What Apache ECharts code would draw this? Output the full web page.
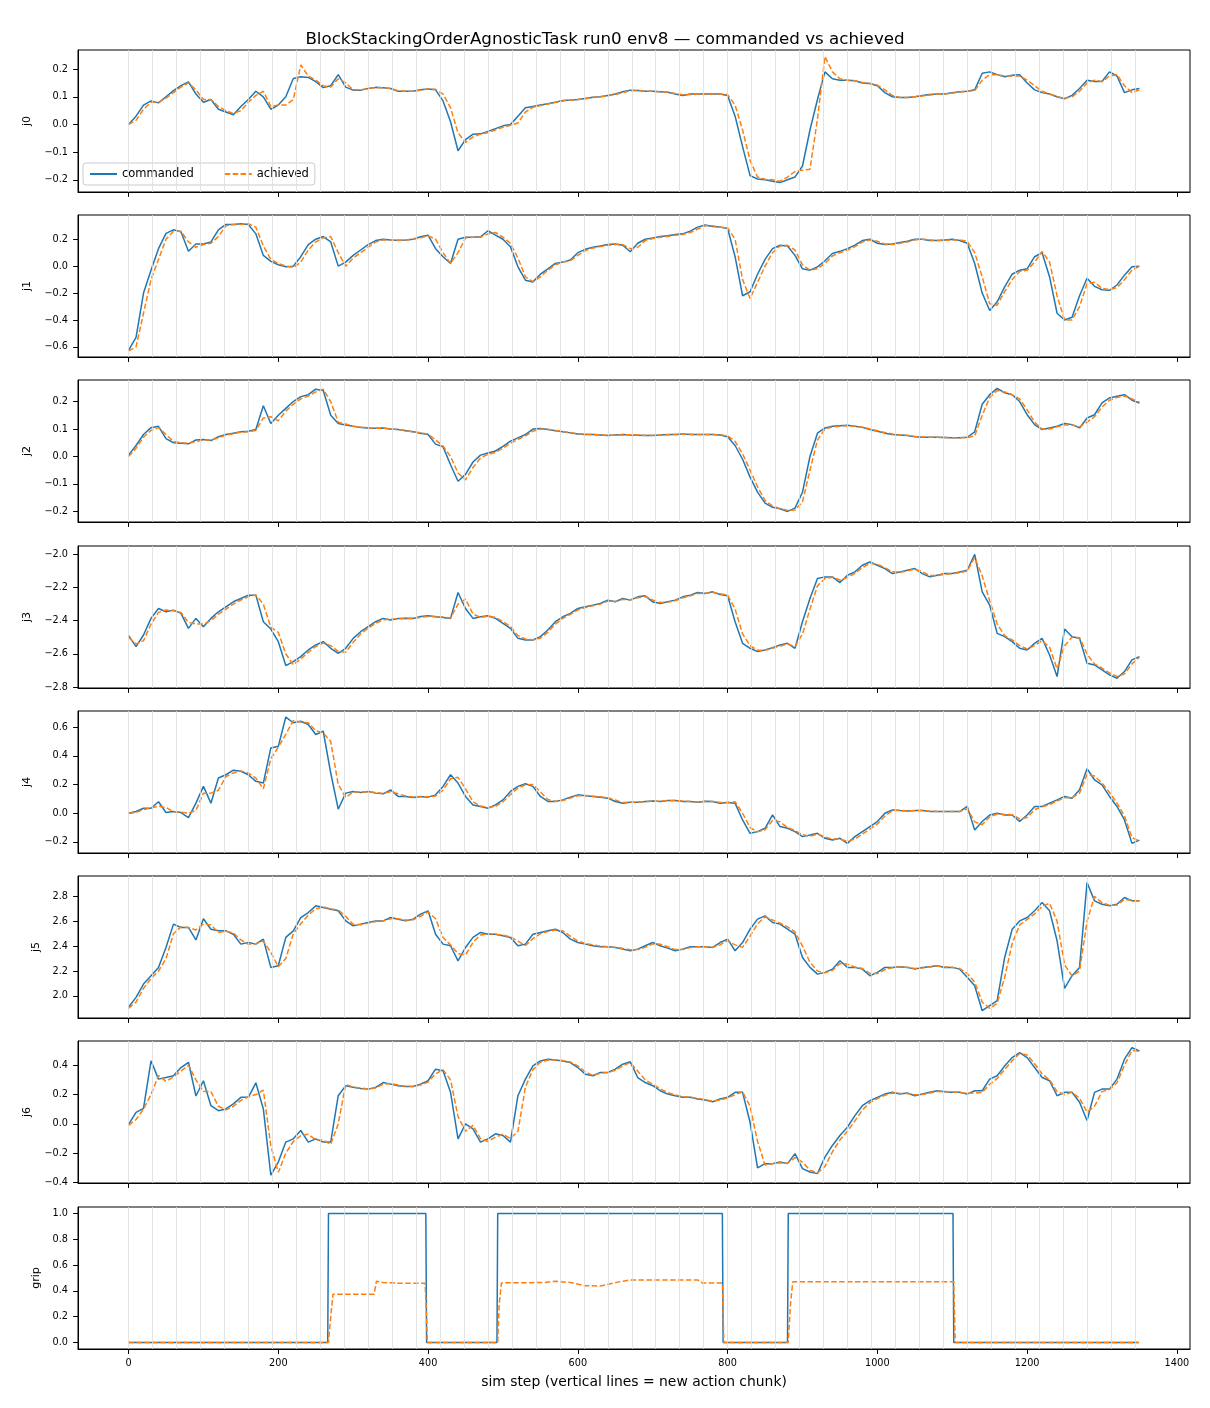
<!DOCTYPE html>
<html>
<head>
<meta charset="utf-8">
<title>commanded vs achieved</title>
<script src="https://cdn.jsdelivr.net/npm/echarts@6.0.0/dist/echarts.min.js"></script>
<style>
html, body { margin: 0; padding: 0; background: #fff; }
#chart { width: 1210px; height: 1408px; }
</style>
</head>
<body>
<div id="chart"></div>
<script>
let steps = [
      0, 10, 20, 30, 40, 50, 60, 70, 80, 90,
      100, 110, 120, 130, 140, 150, 160, 170, 180, 190,
      200, 210, 220, 230, 240, 250, 260, 270, 280, 290,
      300, 310, 320, 330, 340, 350, 360, 370, 380, 390,
      400, 410, 420, 430, 440, 450, 460, 470, 480, 490,
      500, 510, 520, 530, 540, 550, 560, 570, 580, 590,
      600, 610, 620, 630, 640, 650, 660, 670, 680, 690,
      700, 710, 720, 730, 740, 750, 760, 770, 780, 790,
      800, 810, 820, 830, 840, 850, 860, 870, 880, 890,
      900, 910, 920, 930, 940, 950, 960, 970, 980, 990,
      1000, 1010, 1020, 1030, 1040, 1050, 1060, 1070, 1080, 1090,
      1100, 1110, 1120, 1130, 1140, 1150, 1160, 1170, 1180, 1190,
      1200, 1210, 1220, 1230, 1240, 1250, 1260, 1270, 1280, 1290,
      1300, 1310, 1320, 1330, 1340, 1350
];

let j0Cmd = [
      0.00, 0.03, 0.07, 0.085, 0.078, 0.10, 0.122, 0.14, 0.154, 0.11,
      0.08, 0.09, 0.055, 0.045, 0.035, 0.065, 0.09, 0.12, 0.10, 0.055,
      0.07, 0.10, 0.166, 0.172, 0.17, 0.155, 0.133, 0.14, 0.18, 0.135,
      0.124, 0.124, 0.13, 0.134, 0.133, 0.13, 0.12, 0.12, 0.12, 0.125,
      0.128, 0.125, 0.085, 0.01, -0.095, -0.055, -0.035, -0.034, -0.025, -0.015,
      -0.005, 0.0, 0.03, 0.06, 0.065, 0.07, 0.075, 0.08, 0.087, 0.088,
      0.09, 0.094, 0.098, 0.10, 0.105, 0.11, 0.118, 0.124, 0.123, 0.12,
      0.12, 0.118, 0.116, 0.11, 0.105, 0.11, 0.11, 0.11, 0.11, 0.11,
      0.105, 0.03, -0.08, -0.185, -0.197, -0.20, -0.205, -0.21, -0.20, -0.19,
      -0.15, -0.02, 0.09, 0.19, 0.165, 0.16, 0.16, 0.158, 0.15, 0.148,
      0.14, 0.115, 0.10, 0.097, 0.097, 0.10, 0.105, 0.108, 0.11, 0.11,
      0.115, 0.118, 0.12, 0.125, 0.185, 0.19, 0.18, 0.172, 0.178, 0.18,
      0.15, 0.125, 0.115, 0.11, 0.10, 0.093, 0.105, 0.13, 0.16, 0.155,
      0.155, 0.19, 0.175, 0.115, 0.125, 0.13
];
let j0Ach = [
      0.0, 0.015, 0.055, 0.08, 0.08, 0.095, 0.115, 0.135, 0.15, 0.125,
      0.09, 0.09, 0.065, 0.05, 0.04, 0.05, 0.08, 0.105, 0.12, 0.065,
      0.07, 0.07, 0.09, 0.215, 0.175, 0.16, 0.14, 0.135, 0.165, 0.15,
      0.125, 0.125, 0.13, 0.133, 0.133, 0.13, 0.122, 0.12, 0.12, 0.124,
      0.128, 0.127, 0.11, 0.06, -0.03, -0.065, -0.045, -0.035, -0.03, -0.02,
      -0.01, -0.003, 0.005, 0.045, 0.062, 0.068, 0.074, 0.08, 0.085, 0.088,
      0.09, 0.093, 0.097, 0.10, 0.104, 0.108, 0.115, 0.122, 0.123, 0.12,
      0.12, 0.118, 0.116, 0.112, 0.107, 0.108, 0.11, 0.11, 0.11, 0.11,
      0.108, 0.07, -0.02, -0.13, -0.19, -0.198, -0.20, -0.205, -0.19, -0.17,
      -0.165, -0.162, 0.02, 0.245, 0.19, 0.165, 0.16, 0.158, 0.152, 0.148,
      0.142, 0.125, 0.105, 0.098, 0.097, 0.10, 0.103, 0.106, 0.11, 0.11,
      0.113, 0.117, 0.12, 0.122, 0.16, 0.18, 0.18, 0.175, 0.175, 0.175,
      0.16, 0.14, 0.12, 0.11, 0.10, 0.095, 0.10, 0.12, 0.15, 0.16,
      0.155, 0.175, 0.18, 0.14, 0.115, 0.125
];

let j1Cmd = [
      -0.625, -0.53, -0.2, -0.03, 0.13, 0.243, 0.27, 0.255, 0.11, 0.165,
      0.165, 0.18, 0.27, 0.31, 0.31, 0.315, 0.31, 0.24, 0.08, 0.035,
      0.01, -0.005, 0.0, 0.07, 0.16, 0.2, 0.22, 0.18, 0.0, 0.03,
      0.08, 0.12, 0.16, 0.19, 0.2, 0.195, 0.193, 0.195, 0.2, 0.218,
      0.23, 0.13, 0.07, 0.02, 0.2, 0.215, 0.215, 0.218, 0.263, 0.23,
      0.2, 0.144, -0.005, -0.104, -0.117, -0.06, -0.02, 0.02, 0.03, 0.045,
      0.1, 0.125, 0.14, 0.15, 0.16, 0.165, 0.155, 0.107, 0.17, 0.2,
      0.21, 0.22, 0.225, 0.235, 0.24, 0.26, 0.29, 0.305, 0.295, 0.29,
      0.28, 0.07, -0.22, -0.19, -0.06, 0.05, 0.13, 0.155, 0.15, 0.08,
      -0.02, -0.03, -0.005, 0.04, 0.094, 0.11, 0.13, 0.156, 0.19, 0.2,
      0.17, 0.16, 0.165, 0.175, 0.185, 0.2, 0.2, 0.19, 0.19, 0.195,
      0.2, 0.19, 0.17, 0.02, -0.2, -0.33, -0.265, -0.154, -0.06, -0.03,
      -0.02, 0.07, 0.1, -0.08, -0.35, -0.4, -0.38, -0.22, -0.09, -0.15,
      -0.175, -0.18, -0.14, -0.067, -0.005, 0.0
];
let j1Ach = [
      -0.63, -0.6, -0.35, -0.1, 0.05, 0.2, 0.26, 0.26, 0.18, 0.14,
      0.16, 0.17, 0.22, 0.3, 0.31, 0.31, 0.315, 0.29, 0.15, 0.05,
      0.02, 0.0, -0.01, 0.03, 0.12, 0.18, 0.21, 0.22, 0.1, 0.0,
      0.06, 0.1, 0.14, 0.18, 0.195, 0.195, 0.19, 0.195, 0.2, 0.21,
      0.225, 0.2, 0.1, 0.02, 0.1, 0.21, 0.215, 0.215, 0.24, 0.25,
      0.215, 0.17, 0.06, -0.08, -0.115, -0.08, -0.03, 0.01, 0.03, 0.04,
      0.08, 0.115, 0.135, 0.145, 0.155, 0.16, 0.16, 0.13, 0.14, 0.19,
      0.205, 0.215, 0.22, 0.23, 0.235, 0.25, 0.275, 0.3, 0.3, 0.29,
      0.285, 0.2, -0.1, -0.24, -0.12, 0.0, 0.1, 0.15, 0.155, 0.12,
      0.01, -0.03, -0.02, 0.02, 0.075, 0.1, 0.12, 0.145, 0.18, 0.195,
      0.185, 0.165, 0.16, 0.17, 0.18, 0.195, 0.2, 0.195, 0.19, 0.19,
      0.195, 0.195, 0.185, 0.1, -0.08, -0.28, -0.29, -0.19, -0.1, -0.04,
      -0.03, 0.03, 0.11, 0.03, -0.22, -0.4, -0.4, -0.3, -0.13, -0.12,
      -0.165, -0.175, -0.16, -0.1, -0.03, 0.0
];

let j2Cmd = [
      0.005, 0.04, 0.08, 0.105, 0.11, 0.065, 0.05, 0.048, 0.046, 0.06,
      0.062, 0.058, 0.072, 0.08, 0.085, 0.09, 0.092, 0.098, 0.185, 0.12,
      0.15, 0.175, 0.2, 0.218, 0.225, 0.245, 0.24, 0.15, 0.12, 0.115,
      0.11, 0.106, 0.104, 0.103, 0.104, 0.1, 0.098, 0.094, 0.09, 0.085,
      0.08, 0.045, 0.035, -0.03, -0.09, -0.065, -0.02, 0.005, 0.013, 0.02,
      0.037, 0.056, 0.068, 0.08, 0.1, 0.102, 0.098, 0.094, 0.09, 0.086,
      0.082, 0.08, 0.08, 0.078, 0.076, 0.078, 0.08, 0.078, 0.077, 0.076,
      0.076, 0.078, 0.08, 0.08, 0.082, 0.08, 0.08, 0.08, 0.08, 0.078,
      0.072, 0.04, -0.01, -0.075, -0.13, -0.17, -0.185, -0.19, -0.2, -0.188,
      -0.13, 0.0, 0.085, 0.104, 0.11, 0.112, 0.114, 0.11, 0.106, 0.098,
      0.092, 0.085, 0.08, 0.078, 0.076, 0.072, 0.07, 0.07, 0.07, 0.069,
      0.068, 0.068, 0.07, 0.09, 0.19, 0.225, 0.248, 0.232, 0.225, 0.2,
      0.152, 0.116, 0.098, 0.104, 0.11, 0.12, 0.116, 0.104, 0.14, 0.152,
      0.195, 0.213, 0.219, 0.225, 0.205, 0.195
];
let j2Ach = [
      0.0, 0.03, 0.07, 0.095, 0.105, 0.08, 0.055, 0.05, 0.048, 0.055,
      0.06, 0.06, 0.068, 0.078, 0.083, 0.088, 0.09, 0.095, 0.14, 0.145,
      0.13, 0.165, 0.19, 0.21, 0.22, 0.235, 0.245, 0.2, 0.125, 0.118,
      0.11, 0.107, 0.105, 0.103, 0.103, 0.1, 0.098, 0.095, 0.09, 0.086,
      0.082, 0.06, 0.038, 0.0, -0.06, -0.085, -0.04, -0.005, 0.008, 0.015,
      0.03, 0.048, 0.062, 0.075, 0.092, 0.1, 0.099, 0.095, 0.091, 0.087,
      0.083, 0.081, 0.08, 0.079, 0.077, 0.077, 0.079, 0.079, 0.078, 0.077,
      0.077, 0.078, 0.079, 0.08, 0.081, 0.081, 0.08, 0.08, 0.08, 0.079,
      0.075, 0.055, 0.01, -0.05, -0.11, -0.16, -0.18, -0.19, -0.196, -0.195,
      -0.165, -0.05, 0.06, 0.1, 0.108, 0.11, 0.112, 0.11, 0.107, 0.1,
      0.094, 0.087, 0.082, 0.079, 0.077, 0.073, 0.071, 0.07, 0.07, 0.069,
      0.068, 0.068, 0.069, 0.075, 0.15, 0.215, 0.24, 0.235, 0.225, 0.21,
      0.17, 0.125, 0.1, 0.1, 0.108, 0.115, 0.115, 0.108, 0.125, 0.145,
      0.18, 0.205, 0.215, 0.22, 0.21, 0.198
];

let j3Cmd = [
      -2.49, -2.556, -2.486, -2.386, -2.326, -2.346, -2.336, -2.356, -2.446, -2.386,
      -2.436, -2.386, -2.346, -2.316, -2.286, -2.266, -2.246, -2.246, -2.406, -2.45,
      -2.526, -2.67, -2.646, -2.616, -2.576, -2.546, -2.526, -2.566, -2.596, -2.566,
      -2.506, -2.466, -2.436, -2.406, -2.386, -2.396, -2.386, -2.385, -2.386, -2.375,
      -2.37, -2.376, -2.38, -2.386, -2.23, -2.326, -2.386, -2.376, -2.37, -2.386,
      -2.416, -2.446, -2.506, -2.516, -2.516, -2.496, -2.456, -2.406, -2.376, -2.356,
      -2.326, -2.316, -2.306, -2.296, -2.276, -2.286, -2.266, -2.276, -2.256, -2.25,
      -2.286, -2.296, -2.286, -2.276, -2.256, -2.246, -2.23, -2.236, -2.226, -2.242,
      -2.25, -2.406, -2.536, -2.566, -2.586, -2.576, -2.562, -2.546, -2.536, -2.566,
      -2.406, -2.266, -2.146, -2.136, -2.136, -2.17, -2.126, -2.106, -2.066, -2.046,
      -2.066, -2.086, -2.116, -2.106, -2.096, -2.086, -2.116, -2.136, -2.126, -2.116,
      -2.116, -2.106, -2.096, -2.0, -2.226, -2.306, -2.476, -2.496, -2.526, -2.566,
      -2.576, -2.536, -2.506, -2.606, -2.736, -2.45, -2.496, -2.506, -2.656, -2.666,
      -2.696, -2.726, -2.746, -2.706, -2.636, -2.616
];
let j3Ach = [
      -2.5, -2.54, -2.52, -2.42, -2.35, -2.335, -2.34, -2.35, -2.41, -2.42,
      -2.42, -2.4, -2.36, -2.33, -2.3, -2.275, -2.255, -2.245, -2.3, -2.44,
      -2.47, -2.6, -2.665, -2.63, -2.59, -2.555, -2.535, -2.55, -2.585, -2.59,
      -2.53, -2.48, -2.445, -2.415, -2.395, -2.39, -2.388, -2.386, -2.385, -2.38,
      -2.374, -2.375, -2.378, -2.384, -2.3, -2.27, -2.36, -2.38, -2.373, -2.38,
      -2.405, -2.435, -2.49, -2.51, -2.515, -2.505, -2.47, -2.42, -2.385, -2.362,
      -2.335, -2.32, -2.31, -2.3, -2.282, -2.284, -2.272, -2.274, -2.262, -2.254,
      -2.275, -2.29, -2.288, -2.28, -2.262, -2.25, -2.236, -2.235, -2.23, -2.238,
      -2.246, -2.33, -2.48, -2.55, -2.578, -2.578, -2.566, -2.552, -2.54, -2.555,
      -2.48, -2.33, -2.19, -2.145, -2.138, -2.155, -2.14, -2.115, -2.08, -2.055,
      -2.06, -2.08, -2.105, -2.108, -2.1, -2.09, -2.105, -2.128, -2.128, -2.12,
      -2.117, -2.11, -2.1, -2.02, -2.13, -2.28, -2.42, -2.49, -2.515, -2.55,
      -2.57, -2.55, -2.52, -2.56, -2.69, -2.55, -2.5, -2.502, -2.6, -2.66,
      -2.685, -2.715, -2.735, -2.72, -2.66, -2.62
];

let j4Cmd = [
      0.0, 0.012, 0.035, 0.035, 0.08, 0.005, 0.012, 0.005, -0.03, 0.07,
      0.187, 0.07, 0.245, 0.268, 0.3, 0.292, 0.268, 0.222, 0.21, 0.455,
      0.466, 0.67, 0.63, 0.641, 0.618, 0.548, 0.571, 0.28, 0.028, 0.14,
      0.152, 0.145, 0.152, 0.14, 0.135, 0.163, 0.117, 0.117, 0.11, 0.117,
      0.112, 0.128, 0.187, 0.268, 0.21, 0.117, 0.058, 0.047, 0.035, 0.058,
      0.093, 0.152, 0.187, 0.205, 0.187, 0.117, 0.082, 0.082, 0.093, 0.112,
      0.128, 0.121, 0.117, 0.112, 0.105, 0.082, 0.07, 0.077, 0.077, 0.082,
      0.086, 0.082, 0.089, 0.089, 0.082, 0.082, 0.077, 0.084, 0.082, 0.07,
      0.075, 0.07, -0.047, -0.14, -0.128, -0.105, -0.012, -0.093, -0.105, -0.128,
      -0.163, -0.152, -0.14, -0.175, -0.187, -0.175, -0.21, -0.163, -0.128, -0.093,
      -0.058, 0.0, 0.023, 0.019, 0.016, 0.019, 0.019, 0.012, 0.012, 0.012,
      0.012, 0.012, 0.047, -0.117, -0.058, -0.012, 0.0, -0.012, -0.012, -0.058,
      -0.012, 0.047, 0.047, 0.07, 0.093, 0.117, 0.105, 0.163, 0.31, 0.233,
      0.198, 0.117, 0.047, -0.047, -0.21, -0.187
];
let j4Ach = [
      0.0, 0.005, 0.025, 0.035, 0.05, 0.04, 0.01, 0.008, 0.0, 0.02,
      0.14, 0.14, 0.16, 0.255, 0.28, 0.295, 0.28, 0.245, 0.17, 0.38,
      0.46, 0.55, 0.645, 0.635, 0.63, 0.575, 0.56, 0.5, 0.2, 0.11,
      0.148, 0.148, 0.15, 0.145, 0.138, 0.15, 0.135, 0.12, 0.113, 0.115,
      0.114, 0.12, 0.16, 0.24, 0.25, 0.17, 0.08, 0.05, 0.04, 0.048,
      0.08, 0.13, 0.175, 0.198, 0.2, 0.15, 0.095, 0.083, 0.088, 0.105,
      0.122, 0.123, 0.119, 0.114, 0.108, 0.092, 0.075, 0.076, 0.077, 0.08,
      0.084, 0.084, 0.087, 0.088, 0.085, 0.082, 0.079, 0.082, 0.082, 0.075,
      0.074, 0.08, 0.0, -0.1, -0.13, -0.115, -0.05, -0.06, -0.1, -0.12,
      -0.15, -0.16, -0.145, -0.165, -0.18, -0.18, -0.195, -0.18, -0.145, -0.11,
      -0.075, -0.02, 0.018, 0.02, 0.017, 0.018, 0.019, 0.014, 0.012, 0.012,
      0.012, 0.012, 0.03, -0.06, -0.08, -0.025, -0.005, -0.008, -0.01, -0.04,
      -0.03, 0.025, 0.045, 0.06, 0.085, 0.108, 0.108, 0.14, 0.27, 0.26,
      0.21, 0.145, 0.07, -0.02, -0.17, -0.195
];

let j5Cmd = [
      1.908, 1.988, 2.095, 2.162, 2.229, 2.389, 2.577, 2.55, 2.55, 2.45,
      2.62, 2.536, 2.523, 2.523, 2.496, 2.416, 2.429, 2.416, 2.456, 2.229,
      2.242, 2.47, 2.523, 2.63, 2.67, 2.724, 2.71, 2.697, 2.684, 2.603,
      2.563, 2.577, 2.59, 2.603, 2.603, 2.63, 2.617, 2.603, 2.617, 2.657,
      2.684, 2.496, 2.416, 2.403, 2.282, 2.389, 2.47, 2.51, 2.496, 2.496,
      2.483, 2.47, 2.403, 2.416, 2.496, 2.51, 2.523, 2.536, 2.51, 2.456,
      2.429, 2.416, 2.403, 2.395, 2.395, 2.389, 2.376, 2.363, 2.376, 2.403,
      2.429, 2.403, 2.384, 2.363, 2.376, 2.395, 2.395, 2.395, 2.389, 2.429,
      2.456, 2.363, 2.429, 2.536, 2.617, 2.643, 2.59, 2.577, 2.536, 2.496,
      2.309, 2.229, 2.175, 2.189, 2.215, 2.282, 2.229, 2.229, 2.215, 2.162,
      2.189, 2.229, 2.229, 2.234, 2.229, 2.215, 2.229, 2.234, 2.242, 2.229,
      2.229, 2.215, 2.149, 2.082, 1.881, 1.921, 1.961, 2.309, 2.536, 2.603,
      2.63, 2.684, 2.75, 2.684, 2.443, 2.06, 2.162, 2.229, 2.911, 2.764,
      2.737, 2.724, 2.737, 2.791, 2.764, 2.764
];
let j5Ach = [
      1.9, 1.95, 2.06, 2.14, 2.2, 2.3, 2.5, 2.555, 2.55, 2.53,
      2.58, 2.57, 2.51, 2.52, 2.505, 2.45, 2.415, 2.42, 2.44, 2.35,
      2.235, 2.3, 2.5, 2.58, 2.65, 2.7, 2.715, 2.7, 2.69, 2.64,
      2.575, 2.572, 2.585, 2.598, 2.603, 2.62, 2.62, 2.61, 2.612, 2.64,
      2.675, 2.62, 2.47, 2.41, 2.34, 2.33, 2.43, 2.49, 2.5, 2.496,
      2.488, 2.475, 2.44, 2.405, 2.46, 2.5, 2.518, 2.53, 2.522, 2.48,
      2.44, 2.422, 2.41, 2.4, 2.396, 2.39, 2.382, 2.37, 2.372, 2.39,
      2.418, 2.415, 2.395, 2.372, 2.372, 2.388, 2.395, 2.395, 2.39, 2.41,
      2.445, 2.41, 2.39, 2.48, 2.58, 2.635, 2.61, 2.585, 2.555, 2.515,
      2.4, 2.27, 2.2, 2.185, 2.205, 2.26, 2.255, 2.232, 2.22, 2.18,
      2.18, 2.21, 2.227, 2.232, 2.23, 2.22, 2.225, 2.232, 2.24, 2.233,
      2.23, 2.22, 2.18, 2.11, 1.95, 1.9, 1.94, 2.15, 2.42, 2.57,
      2.615, 2.66, 2.72, 2.745, 2.6, 2.25, 2.16, 2.2, 2.6, 2.8,
      2.75, 2.728, 2.73, 2.775, 2.77, 2.76
];

let j6Cmd = [
      -0.005, 0.079, 0.106, 0.43, 0.305, 0.316, 0.328, 0.384, 0.42, 0.19,
      0.294, 0.124, 0.09, 0.102, 0.136, 0.181, 0.181, 0.28, 0.102, -0.35,
      -0.26, -0.124, -0.102, -0.045, -0.124, -0.102, -0.124, -0.124, 0.192, 0.26,
      0.249, 0.242, 0.237, 0.249, 0.282, 0.271, 0.26, 0.255, 0.255, 0.271,
      0.294, 0.373, 0.362, 0.215, -0.102, 0.0, -0.034, -0.124, -0.102, -0.068,
      -0.079, -0.124, 0.192, 0.305, 0.395, 0.429, 0.441, 0.436, 0.429, 0.418,
      0.384, 0.339, 0.328, 0.35, 0.35, 0.373, 0.407, 0.423, 0.316, 0.282,
      0.26, 0.226, 0.203, 0.192, 0.181, 0.181, 0.17, 0.163, 0.151, 0.17,
      0.181, 0.215, 0.215, 0.011, -0.3, -0.271, -0.271, -0.26, -0.271, -0.203,
      -0.305, -0.328, -0.339, -0.226, -0.147, -0.079, -0.023, 0.056, 0.124, 0.158,
      0.181, 0.203, 0.215, 0.203, 0.21, 0.192, 0.203, 0.215, 0.226, 0.219,
      0.215, 0.215, 0.203, 0.226, 0.226, 0.305, 0.328, 0.395, 0.452, 0.486,
      0.452, 0.384, 0.316, 0.294, 0.192, 0.215, 0.215, 0.147, 0.023, 0.215,
      0.237, 0.237, 0.305, 0.441, 0.52, 0.497
];
let j6Ach = [
      -0.01, 0.03, 0.1, 0.2, 0.33, 0.29, 0.32, 0.36, 0.4, 0.3,
      0.22, 0.22, 0.12, 0.095, 0.12, 0.16, 0.185, 0.2, 0.23, -0.15,
      -0.33, -0.2, -0.12, -0.08, -0.07, -0.11, -0.11, -0.14, 0.0, 0.27,
      0.25, 0.245, 0.238, 0.245, 0.27, 0.275, 0.265, 0.257, 0.255, 0.265,
      0.285, 0.34, 0.37, 0.3, 0.05, -0.05, -0.01, -0.1, -0.12, -0.09,
      -0.07, -0.1, -0.05, 0.25, 0.37, 0.42, 0.435, 0.437, 0.432, 0.422,
      0.395, 0.355, 0.33, 0.345, 0.35, 0.365, 0.395, 0.418, 0.36, 0.3,
      0.27, 0.24, 0.212, 0.198, 0.185, 0.182, 0.174, 0.166, 0.155, 0.163,
      0.176, 0.2, 0.218, 0.12, -0.12, -0.28, -0.272, -0.265, -0.268, -0.23,
      -0.26, -0.315, -0.335, -0.29, -0.19, -0.11, -0.05, 0.02, 0.095, 0.145,
      0.172, 0.195, 0.21, 0.208, 0.207, 0.198, 0.2, 0.21, 0.222, 0.221,
      0.217, 0.215, 0.208, 0.21, 0.215, 0.27, 0.31, 0.37, 0.43, 0.48,
      0.47, 0.41, 0.34, 0.3, 0.22, 0.2, 0.215, 0.175, 0.08, 0.12,
      0.22, 0.235, 0.28, 0.4, 0.5, 0.495
];

// gripper: breakpoints of the step signal
let gripCmdSteps = [0, 266, 267, 397, 398, 492, 493, 793, 794, 880, 881, 1101, 1102, 1349];
let gripCmdVals = [0, 0, 1, 1, 0, 0, 1, 1, 0, 0, 1, 1, 0, 0];
let gripAchSteps = [0, 267, 270, 273, 328, 331, 340, 360, 396, 398, 399, 493, 495, 498, 555, 570, 590, 610, 630, 655, 670, 760, 766, 793, 795, 881, 884, 887, 1102, 1104, 1349];
let gripAchVals = [0, 0, 0.2, 0.375, 0.375, 0.475, 0.465, 0.46, 0.46, 0.2, 0, 0, 0.3, 0.462, 0.465, 0.475, 0.465, 0.44, 0.438, 0.47, 0.485, 0.485, 0.462, 0.462, 0, 0, 0.3, 0.47, 0.47, 0, 0];

let panelNames = ['j0', 'j1', 'j2', 'j3', 'j4', 'j5', 'j6', 'grip'];
let yLimits = [
      [-0.244, 0.269], [-0.675, 0.38], [-0.2385, 0.2785], [-2.805, -1.95],
      [-0.277, 0.712], [1.822, 2.964], [-0.403, 0.565], [-0.05, 1.05]
];
let yTicks = [
      [-0.2, -0.1, 0, 0.1, 0.2],
      [-0.6, -0.4, -0.2, 0, 0.2],
      [-0.2, -0.1, 0, 0.1, 0.2],
      [-2.8, -2.6, -2.4, -2.2, -2.0],
      [-0.2, 0, 0.2, 0.4, 0.6],
      [2.0, 2.2, 2.4, 2.6, 2.8],
      [-0.4, -0.2, 0, 0.2, 0.4],
      [0, 0.2, 0.4, 0.6, 0.8, 1.0]
];
let xTicks = [0, 200, 400, 600, 800, 1000, 1200, 1400];
// new action chunk every 32 steps
let chunkStarts = [0, 32, 64, 96, 128, 160, 192, 224, 256, 288, 320, 352, 384, 416, 448, 480,
      512, 544, 576, 608, 640, 672, 704, 736, 768, 800, 832, 864, 896, 928, 960, 992,
      1024, 1056, 1088, 1120, 1152, 1184, 1216, 1248, 1280, 1312, 1344];

let cmdSeries = [j0Cmd, j1Cmd, j2Cmd, j3Cmd, j4Cmd, j5Cmd, j6Cmd];
let achSeries = [j0Ach, j1Ach, j2Ach, j3Ach, j4Ach, j5Ach, j6Ach];

let gridTops = [50, 215, 380, 546, 711, 876, 1041, 1207];
let font = 'DejaVu Sans';

function fmt(v) {
      return v.toFixed(1).replace('-', '\u2212');
}

function pairs(xs, ys) {
      return xs.map(function (x, k) { return [x, ys[k]]; });
}

let grids = [];
let xAxes = [];
let yAxes = [];
let series = [];

for (let i = 0; i < panelNames.length; i++) {
      let last = i === panelNames.length - 1;
      grids.push({
            left: 78, top: gridTops[i], width: 1112, height: 142,
            show: true, borderColor: '#000', borderWidth: 1, containLabel: false
      });
      xAxes.push({
            type: 'value', gridIndex: i, min: -67.5, max: 1417.5,
            axisLine: { show: true, onZero: false, lineStyle: { color: '#000', width: 1 } },
            axisTick: { show: true, length: 4.9, customValues: xTicks, lineStyle: { color: '#000' } },
            axisLabel: {
                  show: last, customValues: xTicks, fontSize: 9.7, color: '#000', margin: 9, fontFamily: font,
                  formatter: function (v) { return String(v); }
            },
            splitLine: { show: false },
            name: last ? 'sim step (vertical lines = new action chunk)' : '',
            nameLocation: 'middle', nameGap: 26,
            nameTextStyle: { fontSize: 13.9, color: '#000', fontFamily: font }
      });
      let shortLabels = (i === 5 || i === 7);
      yAxes.push({
            type: 'value', gridIndex: i, min: yLimits[i][0], max: yLimits[i][1],
            axisLine: { show: true, onZero: false, lineStyle: { color: '#000', width: 1 } },
            axisTick: { show: true, length: 4.9, customValues: yTicks[i], lineStyle: { color: '#000' } },
            axisLabel: { customValues: yTicks[i], formatter: fmt, fontSize: 9.7, color: '#000', margin: 10, fontFamily: font },
            splitLine: { show: false },
            name: panelNames[i], nameLocation: 'middle', nameGap: shortLabels ? 34 : 45,
            nameTextStyle: { fontSize: 11.1, color: '#000', fontFamily: font }
      });

      // chunk boundaries, drawn behind the data
      series.push({
            type: 'line', xAxisIndex: i, yAxisIndex: i, data: [], silent: true, z: 1,
            markLine: {
                  silent: true, symbol: ['none', 'none'], animation: false,
                  label: { show: false },
                  lineStyle: { color: '#dcdcdc', width: 0.8, type: 'solid' },
                  emphasis: { disabled: true },
                  data: chunkStarts.map(function (s) { return { xAxis: s }; })
            }
      });

      let cmdData = last ? pairs(gripCmdSteps, gripCmdVals) : pairs(steps, cmdSeries[i]);
      let achData = last ? pairs(gripAchSteps, gripAchVals) : pairs(steps, achSeries[i]);

      series.push({
            name: 'commanded', type: 'line', xAxisIndex: i, yAxisIndex: i, data: cmdData,
            symbol: 'none', showSymbol: false, z: 2,
            lineStyle: { color: '#1f77b4', width: 1.5 }, itemStyle: { color: '#1f77b4' }
      });
      series.push({
            name: 'achieved', type: 'line', xAxisIndex: i, yAxisIndex: i, data: achData,
            symbol: 'none', showSymbol: false, z: 3,
            lineStyle: { color: '#ff7f0e', width: 1.5, type: [5.5, 2.4] }, itemStyle: { color: '#ff7f0e' }
      });
}

let chart = echarts.init(document.getElementById('chart'));
chart.setOption({
      animation: false,
      backgroundColor: '#fff',
      title: {
            text: 'BlockStackingOrderAgnosticTask run0 env8 \u2014 commanded vs achieved',
            left: 'center', top: 26,
            textStyle: { fontSize: 16.7, fontWeight: 'normal', color: '#000', fontFamily: font }
      },
      legend: {
            data: ['commanded', 'achieved'],
            left: 83, top: 163, itemWidth: 27, itemHeight: 10, itemGap: 30,
            padding: [5, 6], borderColor: '#cccccc', borderWidth: 1, borderRadius: 3,
            backgroundColor: 'rgba(255,255,255,0.8)',
            itemStyle: { opacity: 0 },
            textStyle: { fontSize: 11.5, color: '#000', fontFamily: font }
      },
      grid: grids,
      xAxis: xAxes,
      yAxis: yAxes,
      series: series
});
</script>
</body>
</html>
